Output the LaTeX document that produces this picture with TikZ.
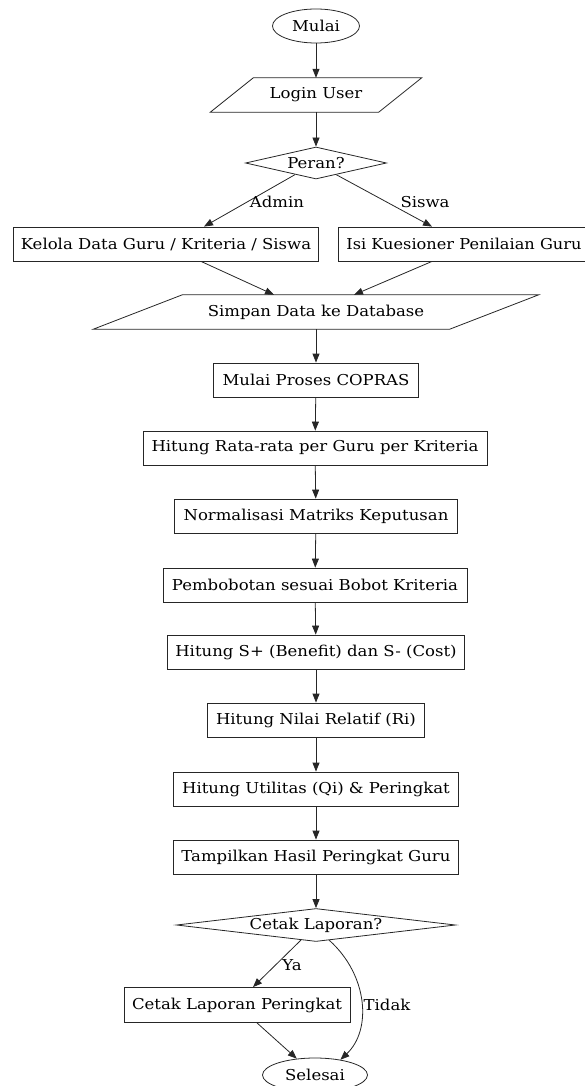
\documentclass[tikz,border=0pt]{standalone}
\usepackage{fontspec}
\setmainfont{DejaVu Serif}[FakeStretch=1.1]
\usetikzlibrary{arrows.meta,shapes.geometric,calc}
\begin{document}
\begin{tikzpicture}[x=1pt,y=-1pt,
  font=\fontsize{15}{17}\selectfont,
  ln/.style={draw=black!85, line width=0.8pt},
  box/.style={ln, rectangle, minimum height=34pt, inner sep=0pt},
  term/.style={ln, ellipse, inner sep=0pt},
  io/.style={rectangle, minimum height=34pt, inner sep=0pt},
  dec/.style={ln, diamond, inner sep=0pt},
  arr/.style={ln, -{Triangle[length=9pt,width=7pt]}},
  lbl/.style={inner sep=0pt}]
\useasboundingbox (0,0) rectangle (584,1086);

\node[term, minimum width=87pt, minimum height=34pt] (mulai) at (316,26) {Mulai};
\node[io, minimum width=168pt] (login) at (316,95) {Login User};
\draw[ln] ($(login.south west)+(-21.5,0)$) -- ($(login.south east)+(-21.5,0)$)
  -- ($(login.north east)+(21.5,0)$) -- ($(login.north west)+(21.5,0)$) -- cycle;
\node[dec, minimum width=141pt, minimum height=32pt, shape aspect=4.4] (peran) at (316,163) {Peran?};
\node[box, minimum width=305pt] (kelola) at (166,244) {Kelola Data Guru / Kriteria / Siswa};
\node[box, anchor=west, inner xsep=8pt] (isi) at (338,244) {\addfontfeature{FakeStretch=1.08}Isi Kuesioner Penilaian Guru};
\node[io, minimum width=356pt] (simpan) at (316,312) {Simpan Data ke Database};
\draw[ln] ($(simpan.south west)+(-44.5,0)$) -- ($(simpan.south east)+(-44.5,0)$)
  -- ($(simpan.north east)+(44.5,0)$) -- ($(simpan.north west)+(44.5,0)$) -- cycle;
\node[box, minimum width=205pt] (copras) at (316,380) {Mulai Proses COPRAS};
\node[box, minimum width=344pt] (rata) at (315,448) {Hitung Rata-rata per Guru per Kriteria};
\node[box, minimum width=283pt] (norm) at (316,516) {Normalisasi Matriks Keputusan};
\node[box, minimum width=304pt] (bobot) at (315,585) {Pembobotan sesuai Bobot Kriteria};
\node[box, minimum width=297pt] (splus) at (316,652) {Hitung S+ (Benefit) dan S- (Cost)};
\node[box, minimum width=217pt] (relatif) at (316,720) {Hitung Nilai Relatif (Ri)};
\node[box, minimum width=285pt] (util) at (316,789) {Hitung Utilitas (Qi) \& Peringkat};
\node[box, minimum width=285pt] (tampil) at (316,857) {Tampilkan Hasil Peringkat Guru};
\node[dec, minimum width=279pt, minimum height=33pt, shape aspect=8.45] (cetak) at (316,925) {Cetak Laporan?};
\node[box, minimum width=226pt, minimum height=35pt] (cbox) at (237,1005) {Cetak Laporan Peringkat};
\node[term, minimum width=105pt, minimum height=34pt] (selesai) at (315,1075) {Selesai};

\draw[arr] (mulai) -- (login);
\draw[arr] (login.south) -- (peran.north);
\draw[arr] (peran.209) -- ($(kelola.north)+(38,0)$);
\draw[arr] (peran.330) -- ($(isi.north west)+(94,0)$);
\draw[arr] ($(kelola.south)+(35,0)$) -- ($(simpan.north)+(-42,0)$);
\draw[arr] ($(isi.south west)+(94,0)$) -- ($(simpan.north)+(38,0)$);
\draw[arr] (simpan.south) -- (copras.north);
\draw[arr] (copras) -- (rata);
\draw[arr] (rata) -- (norm);
\draw[arr] (norm) -- (bobot);
\draw[arr] (bobot) -- (splus);
\draw[arr] (splus) -- (relatif);
\draw[arr] (relatif) -- (util);
\draw[arr] (util) -- (tampil);
\draw[arr] (tampil.south) -- (cetak.north);
\draw[arr] (cetak.225) -- ($(cbox.north)+(16,0)$);
\draw[arr] ($(cbox.south)+(20,0)$) -- (selesai);
\draw[arr] (cetak.-49) .. controls (368,975) and (372,1030) .. (selesai.31);

\node[lbl] (ladmin) at (277,202) {Admin};
\node[lbl] (lsiswa) at (425,202) {Siswa};
\node[lbl] (lya) at (292,965) {Ya};
\node[lbl] (ltidak) at (387,1005) {Tidak};
\end{tikzpicture}
\end{document}
